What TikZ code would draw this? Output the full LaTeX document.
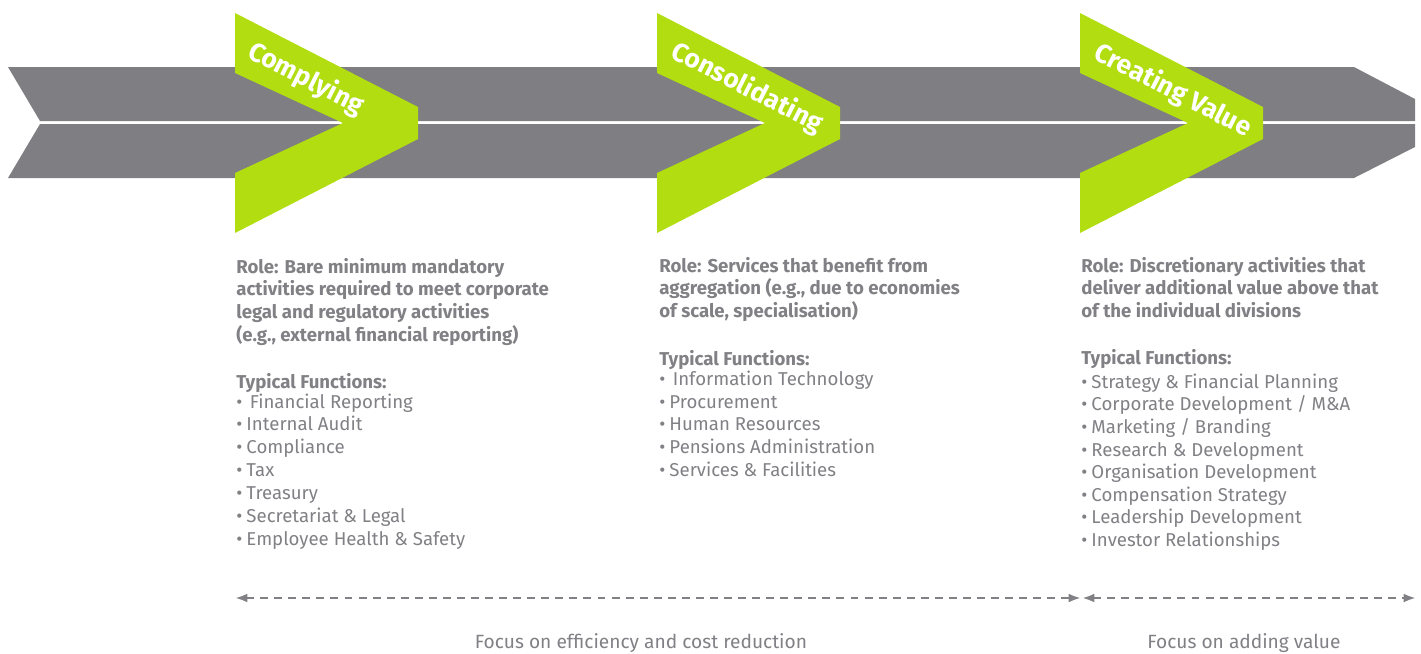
\documentclass[tikz,border=0pt]{standalone}
\usepackage{fontspec}
\setmainfont{Fira Sans}
\usetikzlibrary{arrows.meta}
\definecolor{band}{RGB}{127,126,131}
\definecolor{lime}{RGB}{177,221,17}
\definecolor{txt}{RGB}{128,128,133}
\tikzset{
  bandfill/.style={fill=band, draw=none},
  chev/.style={fill=lime, draw=none},
  chevlabel/.style={text=white, font=\fontsize{15pt}{18pt}\selectfont\bfseries, rotate=-27, inner sep=0pt},
  ln/.style={anchor=base west, inner sep=0pt, text=txt, font=\fontsize{10.6pt}{12pt}\selectfont},
  lnb/.style={ln, font=\fontsize{10.6pt}{12pt}\selectfont\bfseries},
  focus/.style={anchor=base, inner sep=0pt, text=txt, font=\fontsize{10.9pt}{12pt}\selectfont},
  dasharrow/.style={draw=txt, line width=1.3pt, dash pattern=on 4.5pt off 3.5pt, {Latex[length=7pt,width=5pt]}-{Latex[length=7pt,width=5pt]}}
}
\begin{document}
\begin{tikzpicture}[x=0.02cm, y=-0.02cm]
\useasboundingbox (0,0) rectangle (1421,653);
% grey double band arrow
\path[bandfill] (8,67) -- (1354,67) -- (1415,99) -- (1415,121) -- (40,121) -- cycle;
\path[bandfill] (40,124) -- (1415,124) -- (1415,147) -- (1354,178) -- (8,178) -- cycle;
% green chevrons
\foreach \x/\n in {235/a,657/b,1080/c}{
  \path[chev] (\x,13) -- ++(183,94) -- ++(0,32) -- (\x,233) -- (\x,173) -- ++(108,-50) -- (\x,73) -- cycle;
}
\node[chevlabel] (labA) at (306,79) {Complying};
\node[chevlabel] (labB) at (747,88) {Consolidating};
\node[chevlabel] (labC) at (1173,91) {Creating Value};
% column 1
\node[lnb] (a1) at (236,273) {Role: Bare minimum mandatory};
\node[lnb] (a2) at (236,295.5) {activities required to meet corporate};
\node[lnb] (a3) at (236,318) {legal and regulatory activities};
\node[lnb] (a4) at (236,341) {(e.g., external financial reporting)};
\node[lnb] (a5) at (236,388) {Typical Functions:};
\node[ln] (a6) at (236,408) {•\hspace{0.4em}Financial Reporting};
\node[ln] (a7) at (236,430.5) {•\hspace{0.22em}Internal Audit};
\node[ln] (a8) at (236,453) {•\hspace{0.22em}Compliance};
\node[ln] (a9) at (236,476) {•\hspace{0.22em}Tax};
\node[ln] (a10) at (236,499) {•\hspace{0.22em}Treasury};
\node[ln] (a11) at (236,522) {•\hspace{0.22em}Secretariat \& Legal};
\node[ln] (a12) at (236,545) {•\hspace{0.22em}Employee Health \& Safety};
% column 2
\node[lnb] (b1) at (659,272) {Role: Services that benefit from};
\node[lnb] (b2) at (659,294.5) {aggregation (e.g., due to economies};
\node[lnb] (b3) at (659,317) {of scale, specialisation)};
\node[lnb] (b4) at (659,365) {Typical Functions:};
\node[ln] (b5) at (659,385) {•\hspace{0.4em}Information Technology};
\node[ln] (b6) at (659,408) {•\hspace{0.22em}Procurement};
\node[ln] (b7) at (659,430.5) {•\hspace{0.22em}Human Resources};
\node[ln] (b8) at (659,453) {•\hspace{0.22em}Pensions Administration};
\node[ln] (b9) at (659,476) {•\hspace{0.22em}Services \& Facilities};
% column 3
\node[lnb] (c1) at (1081,272) {Role: Discretionary activities that};
\node[lnb] (c2) at (1081,294.5) {deliver additional value above that};
\node[lnb] (c3) at (1081,317) {of the individual divisions};
\node[lnb] (c4) at (1081,364) {Typical Functions:};
\node[ln] (c5) at (1081,388) {•\hspace{0.22em}Strategy \& Financial Planning};
\node[ln] (c6) at (1081,410.5) {•\hspace{0.22em}Corporate Development / M\&A};
\node[ln] (c7) at (1081,433) {•\hspace{0.22em}Marketing / Branding};
\node[ln] (c8) at (1081,456) {•\hspace{0.22em}Research \& Development};
\node[ln] (c9) at (1081,478.5) {•\hspace{0.22em}Organisation Development};
\node[ln] (c10) at (1081,501) {•\hspace{0.22em}Compensation Strategy};
\node[ln] (c11) at (1081,523.5) {•\hspace{0.22em}Leadership Development};
\node[ln] (c12) at (1081,546) {•\hspace{0.22em}Investor Relationships};
% dashed spans
\coordinate (s1) at (235,598);
\coordinate (e1) at (1081,598);
\coordinate (s2) at (1082,598);
\coordinate (e2) at (1416,598);
\draw[dasharrow] (s1) -- (e1);
\draw[dasharrow] (s2) -- (e2);
\node[focus] (f1) at (641,648) {Focus on efficiency and cost reduction};
\node[focus] (f2) at (1244,648) {Focus on adding value};
\end{tikzpicture}
\end{document}
